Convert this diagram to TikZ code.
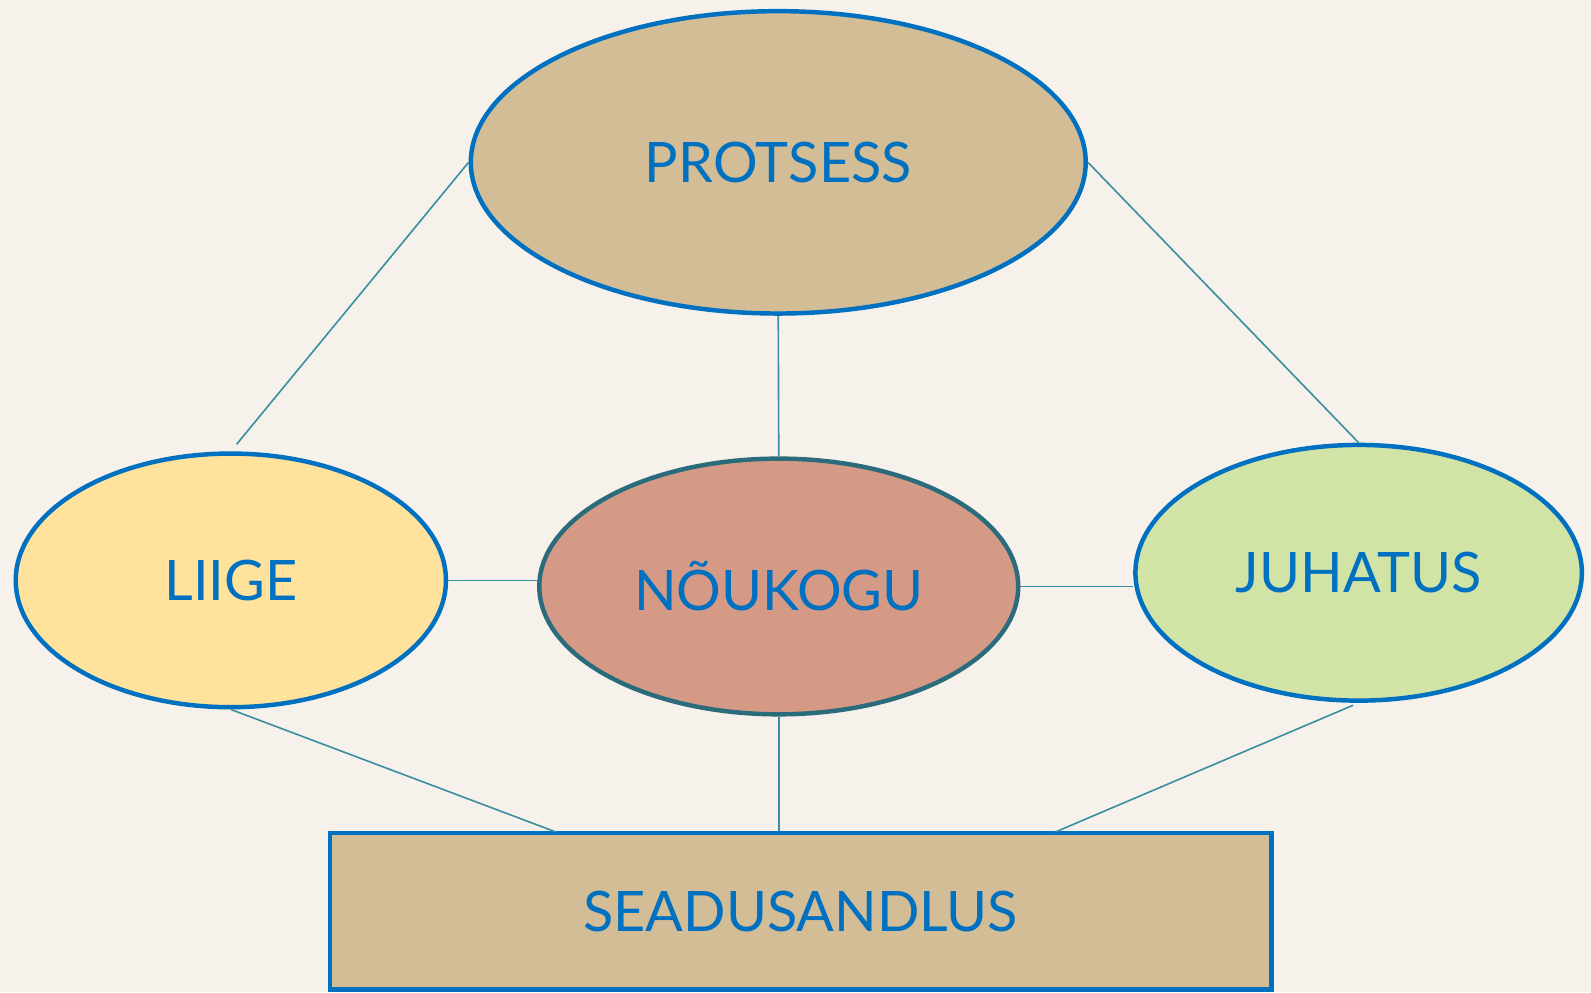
\documentclass[tikz,border=0pt]{standalone}
\usepackage{fontspec}
\setmainfont{Lato}
\usetikzlibrary{shapes.geometric}
\definecolor{bg}{HTML}{F6F2EB}
\definecolor{textblue}{HTML}{0070C0}
\definecolor{linkteal}{HTML}{3A8FA0}
\definecolor{darkteal}{HTML}{2A6B7C}
\definecolor{tan}{HTML}{D2BD96}
\definecolor{lightyellow}{HTML}{FFE39D}
\definecolor{salmon}{HTML}{D59A86}
\definecolor{lightgreen}{HTML}{D1E4A6}

\begin{document}
\begin{tikzpicture}[x=0.5pt,y=-0.5pt,
    blob/.style={ellipse, draw=textblue, line width=2.2pt, inner sep=0pt,
        text=textblue, font=\fontsize{27.5}{30}\selectfont},
    link/.style={draw=linkteal, line width=0.8pt}]
    % Background and page size
    \fill[bg] (0,0) rectangle (1568,978);
    \useasboundingbox (0,0) rectangle (1568,978);
    % Draw the four ellipses
    \node[blob, fill=tan, minimum width=303pt, minimum height=149pt] (protsess) at (767,160) {PROTSESS};
    \node[blob, fill=lightyellow, minimum width=212pt, minimum height=125pt] (liige) at (227.5,572) {LIIGE};
    \node[blob, fill=salmon, draw=darkteal, minimum width=236pt, minimum height=126pt] (noukogu) at (767.5,578) {NÕUKOGU};
    \node[blob, fill=lightgreen, minimum width=220pt, minimum height=126pt] (juhatus) at (1339,564.5) {JUHATUS};
    % Draw the box at the bottom
    \node[draw=textblue, fill=tan, line width=2.2pt, text=textblue, font=\fontsize{27.5}{30}\selectfont,
        minimum width=464pt, minimum height=77pt, inner sep=0pt] (seadus) at (789,898) {SEADUSANDLUS};
    % Points where the lines meet the box
    \coordinate (sL) at (548,820);
    \coordinate (sJ) at (1040,820);
    % Draw the connectors
    \draw[link, shorten <=4.5pt] (liige.north) -- (protsess.west);
    \draw[link] (protsess.south) -- (noukogu.north);
    \draw[link] (protsess.east) -- (juhatus.north);
    \draw[link] (liige.east) -- (liige.east -| noukogu.west);
    \draw[link] (noukogu.east) -- (noukogu.east -| juhatus.west);
    \draw[link] (liige.south) -- (sL);
    \draw[link] (noukogu.south) -- (noukogu.south |- seadus.north);
    \draw[link, shorten <=3pt] (juhatus.south) -- (sJ);
\end{tikzpicture}
\end{document}
